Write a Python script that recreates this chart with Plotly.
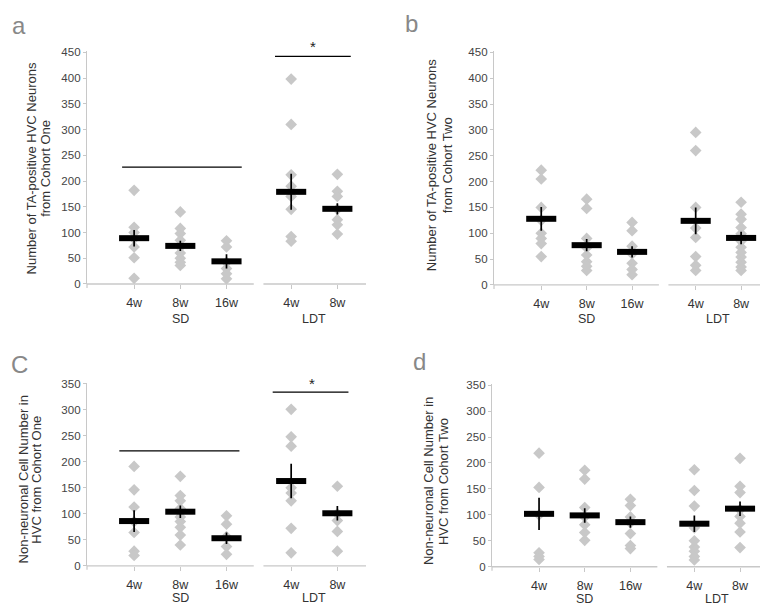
import plotly.graph_objects as go

# ---------------- data ----------------
categories = ["4w", "8w", "16w", "4w", "8w"]
group_labels = ["SD", "LDT"]

# Panel a: TA-positive HVC neurons, cohort one
a_points = [
    [182, 110, 100, 88, 72, 51, 11],
    [140, 108, 98, 85, 72, 60, 50, 42, 36],
    [84, 72, 42, 30, 20, 10],
    [398, 310, 212, 190, 170, 145, 92, 83],
    [213, 180, 170, 145, 125, 115, 97],
]
a_means = [89, 74, 44, 179, 146]
a_sems = [16, 10, 14, 35, 11]

# Panel b: TA-positive HVC neurons, cohort two
b_points = [
    [222, 205, 150, 125, 100, 90, 80, 55],
    [166, 148, 90, 72, 58, 45, 36, 28],
    [121, 105, 75, 60, 42, 30, 20],
    [295, 260, 150, 110, 92, 55, 38, 28],
    [160, 137, 127, 111, 99, 85, 73, 63, 54, 44, 35, 28],
]
b_means = [128, 77, 64, 124, 91]
b_sems = [23, 12, 11, 26, 12]

# Panel c: non-neuronal cells, cohort one
c_points = [
    [191, 146, 113, 85, 64, 28, 20],
    [172, 135, 125, 110, 94, 85, 74, 59, 40],
    [96, 80, 56, 37, 22],
    [301, 248, 230, 150, 140, 125, 72, 25],
    [153, 100, 87, 66, 28],
]
c_means = [86, 104, 53, 163, 101]
c_sems = [21, 12, 11, 33, 14]

# Panel d: non-neuronal cells, cohort two
d_points = [
    [219, 153, 100, 27, 20, 14],
    [186, 169, 114, 96, 81, 66, 51],
    [130, 118, 96, 85, 64, 41, 35],
    [187, 147, 117, 75, 50, 38, 30, 20, 13],
    [209, 155, 143, 110, 97, 84, 67, 37],
]
d_means = [102, 99, 86, 83, 112]
d_sems = [31, 14, 11, 16, 14]

# significance bars: (x0, x1, y) in data units
a_sig_lines = [(-0.26, 2.33, 227), (3.05, 4.69, 442)]
c_sig_lines = [(-0.32, 2.28, 221), (3.0, 4.64, 334)]

# ---------------- layout helpers ----------------
W, H = 768, 606
slots = [0, 1, 2, 3.4, 4.4]


def px(p):
    return p / W


def py(p):
    return 1 - p / H


FONT = "Liberation Sans, Arial, Helvetica, sans-serif"
PT_COLOR = "#c8c8c8"
AX_COLOR = "#c8c8c8"

panels = [
    dict(pts=a_points, means=a_means, sems=a_sems, n="", xdom=(79, 358), ydom=(276, 39),
         xr=[-1.02, 5.02], yr=[0, 452], ytop=450,
         title=["Number of TA-positive HVC Neurons", "from Cohort One"], tx=(23.3, 36.7), ty=158,
         letter="a", lxy=(2, 13), grp_y=312, sig=a_sig_lines, star=(3.87, 34)),
    dict(pts=b_points, means=b_means, sems=b_sems, n="2", xdom=(486, 764), ydom=(277, 39),
         xr=[-1.04, 5.08], yr=[0, 452], ytop=450,
         title=["Number of TA-positive HVC Neurons", "from Cohort Two"], tx=(423, 439), ty=155,
         letter="b", lxy=(395, 11), grp_y=312, sig=None, star=None),
    dict(pts=c_points, means=c_means, sems=c_sems, n="3", xdom=(79, 358), ydom=(563, 376.6),
         xr=[-1.02, 5.02], yr=[0, 352], ytop=350,
         title=["Non-neuronal Cell Number in", "HVC from Cohort One"], tx=(15, 28.3), ty=475,
         letter="C", lxy=(1, 358), grp_y=596, sig=c_sig_lines, star=(3.85, 377)),
    dict(pts=d_points, means=d_means, sems=d_sems, n="4", xdom=(484, 764), ydom=(564, 378),
         xr=[-1.03, 5.1], yr=[0, 352], ytop=350,
         title=["Non-neuronal Cell Number in", "HVC from Cohort Two"], tx=(420.7, 435.7), ty=477,
         letter="d", lxy=(403, 355), grp_y=597, sig=None, star=None),
]

fig = go.Figure()
shapes = []
annotations = []
layout = dict(
    width=W, height=H, margin=dict(l=0, r=0, t=0, b=0),
    paper_bgcolor="white", plot_bgcolor="white", showlegend=False,
    font=dict(family=FONT, color="#333"),
)

for p in panels:
    n = p["n"]
    xid, yid = "x" + n, "y" + n
    # points
    for i, vals in enumerate(p["pts"]):
        fig.add_trace(go.Scatter(
            x=[slots[i]] * len(vals), y=vals, mode="markers",
            marker=dict(symbol="diamond", size=9, color=PT_COLOR, line=dict(width=0)),
            xaxis=xid, yaxis=yid, cliponaxis=False, hoverinfo="y",
        ))
    # means with SEM
    fig.add_trace(go.Scatter(
        x=slots, y=p["means"], mode="markers",
        marker=dict(symbol="line-ew", size=21.5, color="black", line=dict(width=6, color="black")),
        error_y=dict(type="data", array=p["sems"], visible=True, thickness=1.7, width=0, color="black"),
        xaxis=xid, yaxis=yid, cliponaxis=False, hoverinfo="y",
    ))

    layout["xaxis" + n] = dict(
        domain=[px(p["xdom"][0]), px(p["xdom"][1])], range=p["xr"], anchor=yid,
        tickvals=slots, ticktext=categories, ticks="outside", ticklen=4, tickcolor=AX_COLOR,
        tickwidth=1.2, ticklabelstandoff=3,
        showline=False, showgrid=False, zeroline=False,
        tickfont=dict(size=12.5, color="#333", family=FONT),
    )
    layout["yaxis" + n] = dict(
        domain=[py(p["ydom"][0]), py(p["ydom"][1])], range=p["yr"], anchor=xid,
        tickvals=list(range(0, p["ytop"] + 1, 50)), ticks="outside", ticklen=3,
        tickcolor=AX_COLOR, tickwidth=1.2,
        showline=True, linecolor=AX_COLOR, linewidth=1.3, showgrid=False, zeroline=False,
        tickfont=dict(size=11.5, color="#444", family=FONT),
    )

    # broken x axis line (in domain fractions)
    r0, r1 = p["xr"]
    f = lambda v: (v - r0) / (r1 - r0)
    dh = p["ydom"][0] - p["ydom"][1]
    for a0, a1 in [(0, f(2.59)), (f(2.80), 1)]:
        shapes.append(dict(type="line", xref=xid + " domain", yref=yid + " domain",
                           x0=a0, x1=a1, y0=0, y1=0, line=dict(color=AX_COLOR, width=1.3)))
    shapes.append(dict(type="line", xref=xid + " domain", yref=yid + " domain",
                       x0=0, x1=0, y0=0, y1=-4 / dh, line=dict(color=AX_COLOR, width=1.2)))

    # significance lines
    if p["sig"]:
        for x0, x1, yv in p["sig"]:
            shapes.append(dict(type="line", xref=xid, yref=yid, x0=x0, x1=x1, y0=yv, y1=yv,
                               line=dict(color="black", width=1.3)))
        sx, sy = p["star"]
        annotations.append(dict(text="*", xref=xid, yref="paper", x=sx, y=py(sy),
                                showarrow=False, xanchor="center", yanchor="middle",
                                font=dict(size=15, color="#222", family=FONT)))

    # y axis title (two lines)
    for line_txt, tx in zip(p["title"], p["tx"]):
        annotations.append(dict(text=line_txt, xref="paper", yref="paper", x=px(tx), y=py(p["ty"]),
                                textangle=-90, showarrow=False, xanchor="center", yanchor="middle",
                                font=dict(size=13, color="#333", family=FONT)))
    # group labels
    for gx, g in zip([1.0, 3.9], group_labels):
        annotations.append(dict(text=g, xref=xid, yref="paper", x=gx, y=py(p["grp_y"]),
                                showarrow=False, xanchor="center", yanchor="middle",
                                font=dict(size=12.5, color="#333", family=FONT)))
    # panel letter
    lx, ly = p["lxy"]
    annotations.append(dict(text=p["letter"], xref="paper", yref="paper", x=px(lx), y=py(ly),
                            showarrow=False, xanchor="left", yanchor="middle",
                            font=dict(size=24, color="#888", family=FONT)))

layout["shapes"] = shapes
layout["annotations"] = annotations
fig.update_layout(**layout)
fig.write_html("out.html")
